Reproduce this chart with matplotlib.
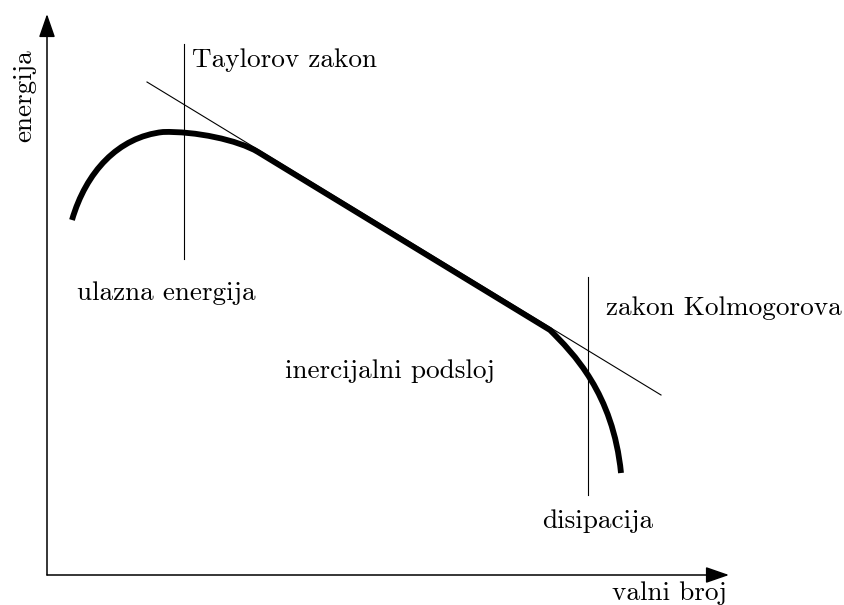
import matplotlib
matplotlib.use("Agg")
import matplotlib.pyplot as plt
from matplotlib.path import Path
from matplotlib.patches import PathPatch

# Diagram in image-like coordinates (x to the right, y downwards)
# energy spectrum curve: start, bezier control points and knots
curve_pts = [(72, 220), (86, 172), (118, 137), (163, 132),
             (195, 131), (238, 140), (258, 152),
             (550, 330),
             (573, 353), (613, 393), (621, 473)]
curve_codes = [Path.MOVETO, Path.CURVE4, Path.CURVE4, Path.CURVE4,
               Path.CURVE4, Path.CURVE4, Path.CURVE4,
               Path.LINETO,
               Path.CURVE4, Path.CURVE4, Path.CURVE4]

tangent_x = [147, 661]
tangent_y = [82, 395]

taylor_x = [184, 184]
taylor_y = [44, 259]
kolmo_x = [588, 588]
kolmo_y = [277, 495]

axis_origin = (47, 575)
x_axis_end = (729, 575)
y_axis_end = (47, 14)

labels = ["Taylorov zakon", "ulazna energija", "inercijalni podsloj",
          "zakon Kolmogorova", "disipacija", "valni broj"]
label_pos = [(192, 67), (77, 300), (285, 378), (606, 315), (542, 528), (612, 600)]
ylabel = "energija"
ylabel_pos = (31, 142)

FONT = "cmr10"
FS = 19.6

fig = plt.figure(figsize=(8.44, 6.05), dpi=100)
ax = fig.add_axes([0, 0, 1, 1])
ax.set_xlim(0, 844)
ax.set_ylim(605, 0)
ax.axis("off")

# axes with arrows
arrow_style = "-|>,head_length=0.72,head_width=0.25"
ax.annotate("", xy=x_axis_end, xytext=axis_origin,
            arrowprops=dict(arrowstyle=arrow_style, mutation_scale=20,
                            color="black", lw=1.1, shrinkA=0, shrinkB=0))
ax.annotate("", xy=y_axis_end, xytext=axis_origin,
            arrowprops=dict(arrowstyle=arrow_style, mutation_scale=20,
                            color="black", lw=1.1, shrinkA=0, shrinkB=0))

# thin guide lines
ax.plot(tangent_x, tangent_y, color="black", lw=0.8)
ax.plot(taylor_x, taylor_y, color="black", lw=0.8)
ax.plot(kolmo_x, kolmo_y, color="black", lw=0.8)

# spectrum
ax.add_patch(PathPatch(Path(curve_pts, curve_codes), fill=False,
                       edgecolor="black", lw=4.2, capstyle="butt", joinstyle="round"))

for txt, (x, y) in zip(labels, label_pos):
    ax.text(x, y, txt, fontfamily=FONT, fontsize=FS, ha="left", va="baseline")

ax.text(ylabel_pos[0], ylabel_pos[1], ylabel, fontfamily=FONT, fontsize=FS,
        rotation=90, rotation_mode="anchor", ha="left", va="baseline")

fig.savefig("out.png", dpi=100)
